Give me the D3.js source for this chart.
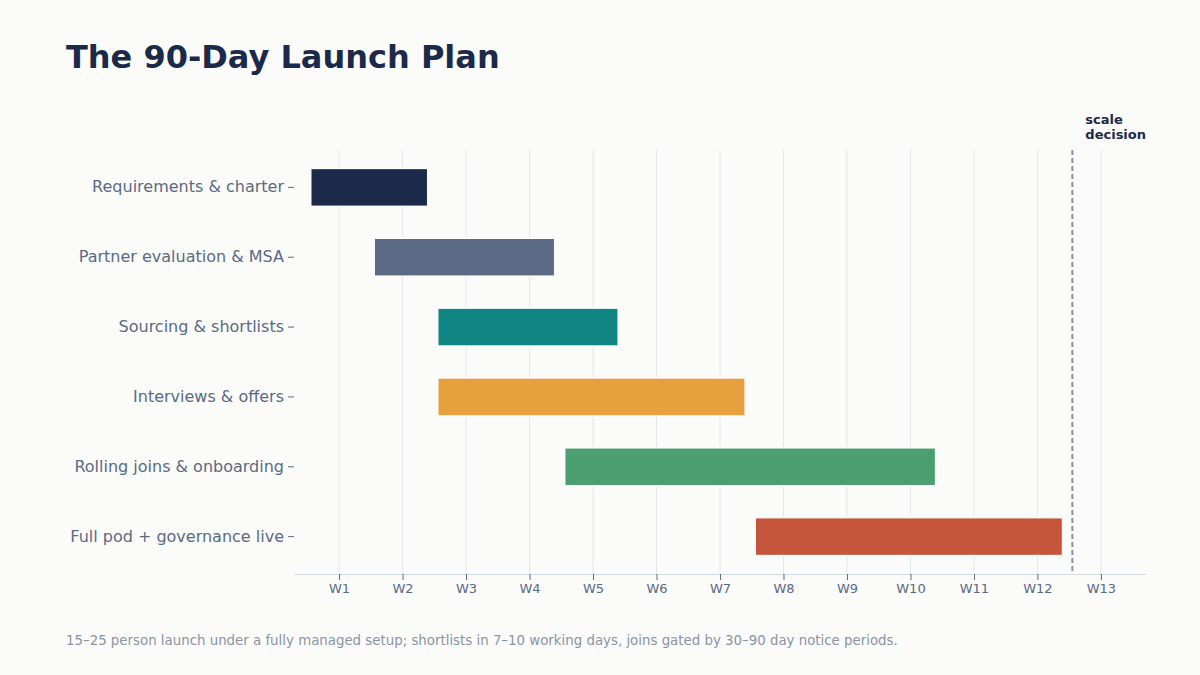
<!DOCTYPE html>
<html>
<head>
<meta charset="utf-8">
<script src="https://cdn.jsdelivr.net/npm/d3@7"></script>
<style>
  html, body { margin: 0; padding: 0; background: #fbfbf9; }
  svg { display: block; font-family: 'DejaVu Sans', sans-serif; }
</style>
</head>
<body>
<figure style="margin:0"></figure>
<script>
const tasks = [
  'Requirements & charter',
  'Partner evaluation & MSA',
  'Sourcing & shortlists',
  'Interviews & offers',
  'Rolling joins & onboarding',
  'Full pod + governance live'
]
const startWeek = [1, 2, 3, 3, 5, 8]
const endWeek = [2, 4, 5, 7, 10, 12]
const colors = ['#1b2a4a', '#5b6b85', '#108583', '#e8a03e', '#4b9e70', '#c5563b']
const weekLabels = d3.range(1, 14).map(d => 'W' + d)
const decisionWeek = 12.55

const width = 1200
const height = 675
const margin = { top: 150, right: 54, bottom: 101, left: 294 }

const data = tasks.map((t, i) => ({ task: t, start: startWeek[i], end: endWeek[i], color: colors[i] }))

const svg = d3.select('figure').append('svg')
  .attr('width', width)
  .attr('height', height)

svg.append('rect')
  .attr('width', width)
  .attr('height', height)
  .attr('fill', '#fbfbf9')

const x = d3.scaleLinear()
  .domain([0.29, 13.71])
  .range([margin.left, width - margin.right])

const y = d3.scaleBand()
  .domain(tasks)
  .range([margin.top, height - margin.bottom])
  .paddingInner(0.45)
  .paddingOuter(0.26)

// gridlines
svg.append('g')
  .selectAll('line')
  .data(d3.range(1, 14))
  .join('line')
  .attr('x1', d => x(d))
  .attr('x2', d => x(d))
  .attr('y1', margin.top)
  .attr('y2', height - margin.bottom)
  .attr('stroke', '#e3e6ed')
  .attr('stroke-width', 1)

// bars
svg.append('g')
  .selectAll('rect')
  .data(data)
  .join('rect')
  .attr('x', d => x(d.start - 0.45))
  .attr('width', d => x(d.end + 0.4) - x(d.start - 0.45))
  .attr('y', d => y(d.task))
  .attr('height', y.bandwidth())
  .attr('fill', d => d.color)
  .attr('stroke', '#fbfbf9')
  .attr('stroke-width', 2)

// x axis
const xAxis = svg.append('g')
  .attr('transform', `translate(0,${height - margin.bottom})`)
  .call(d3.axisBottom(x).tickValues(d3.range(1, 14)).tickFormat((d, i) => weekLabels[i]).tickSize(6).tickPadding(4).tickSizeOuter(0))
xAxis.select('.domain').attr('stroke', '#d6dae3')
xAxis.selectAll('.tick line').attr('stroke', '#5a6a85')
xAxis.selectAll('.tick text')
  .attr('fill', '#5a6a85')
  .attr('font-size', 13)
  .attr('font-family', 'DejaVu Sans, sans-serif')

// y axis
const yAxis = svg.append('g')
  .attr('transform', `translate(${margin.left},0)`)
  .call(d3.axisLeft(y).tickSize(6).tickPadding(4))
yAxis.select('.domain').remove()
yAxis.selectAll('.tick line').attr('stroke', '#5a6a85')
yAxis.selectAll('.tick text')
  .attr('fill', '#5a6a85')
  .attr('font-size', 16)
  .attr('font-family', 'DejaVu Sans, sans-serif')

// decision marker
svg.append('line')
  .attr('x1', x(decisionWeek))
  .attr('x2', x(decisionWeek))
  .attr('y1', margin.top)
  .attr('y2', height - margin.bottom)
  .attr('stroke', '#8a93a6')
  .attr('stroke-width', 2)
  .attr('stroke-dasharray', '5,3')

const note = svg.append('text')
  .attr('x', x(decisionWeek) + 13)
  .attr('y', 124)
  .attr('fill', '#1b2a4a')
  .attr('font-size', 13)
  .attr('font-weight', 'bold')
note.append('tspan').attr('x', x(decisionWeek) + 13).text('scale')
note.append('tspan').attr('x', x(decisionWeek) + 13).attr('dy', 15).text('decision')

// title
svg.append('text')
  .attr('x', 66)
  .attr('y', 68)
  .attr('fill', '#1b2a4a')
  .attr('font-size', 32)
  .attr('font-weight', 'bold')
  .text('The 90-Day Launch Plan')

// footnote
svg.append('text')
  .attr('x', 66)
  .attr('y', 645)
  .attr('fill', '#8a93a6')
  .attr('font-size', 13.35)
  .text('15–25 person launch under a fully managed setup; shortlists in 7–10 working days, joins gated by 30–90 day notice periods.')
</script>
</body>
</html>
